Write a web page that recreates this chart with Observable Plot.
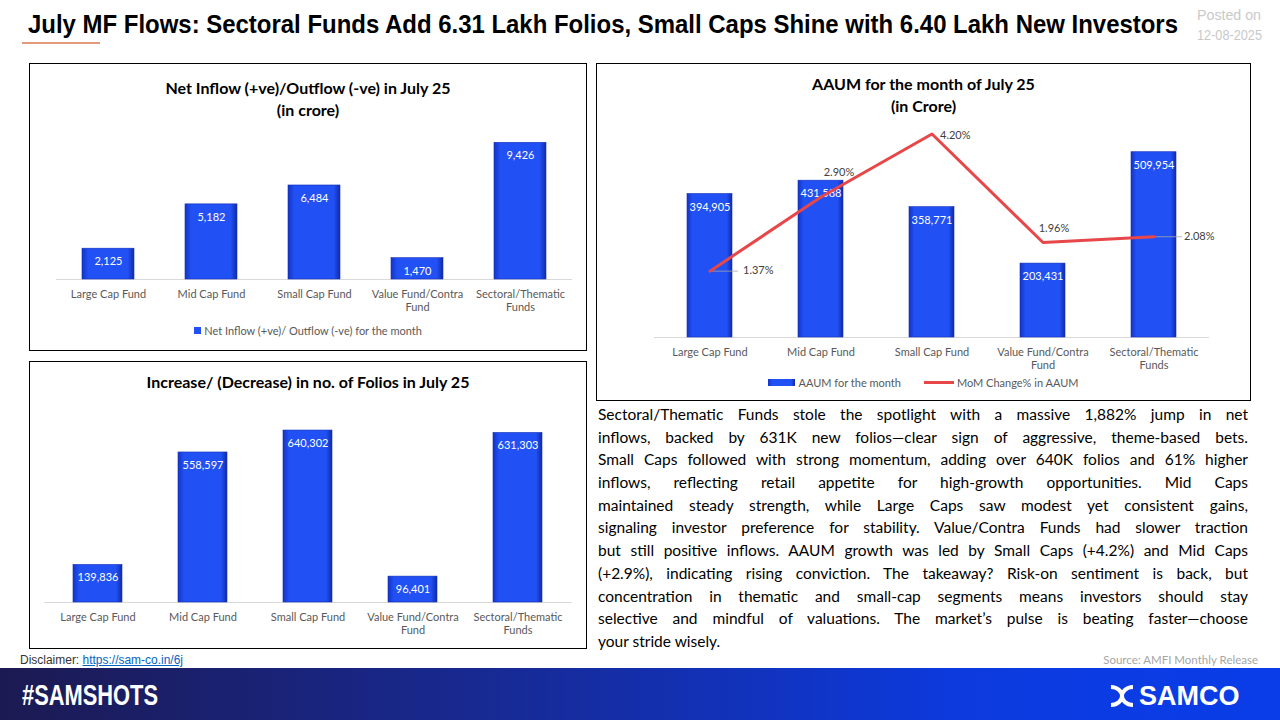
<!DOCTYPE html>
<html><head><meta charset="utf-8">
<script src="https://cdn.jsdelivr.net/npm/d3@7"></script>
<script src="https://cdn.jsdelivr.net/npm/@observablehq/plot@0.6"></script>
<style>
body{margin:0;width:1280px;height:720px;background:#fff;position:relative;overflow:hidden;font-family:Lato,"Open Sans",sans-serif;}
.abs{position:absolute}
.fit{transform-origin:0 50%;white-space:nowrap}
.panel{position:absolute;border:1px solid #000;box-sizing:border-box;background:#fff}
.ptitle{position:absolute;left:0;right:0;text-align:center;font-weight:700;font-size:16px;color:#000;line-height:22px}
.chart{position:absolute;left:0;top:0}
.legend{position:absolute;left:0;right:0;display:flex;justify-content:center;align-items:center;font-size:11px;color:#595959;height:14px}
.para div{text-align:justify;text-align-last:justify;white-space:nowrap;height:22.7px;line-height:22.7px}
.para div.last{text-align-last:left}
</style>
</head><body>
<svg width="0" height="0" style="position:absolute">
  <defs>
    <linearGradient id="bargrad" x1="0" x2="1" y1="0" y2="0">
      <stop offset="0" stop-color="#1434c4"/>
      <stop offset="0.12" stop-color="#2150f4"/>
      <stop offset="0.88" stop-color="#2150f4"/>
      <stop offset="1" stop-color="#0f2aa8"/>
    </linearGradient>
  </defs>
</svg>

<div class="abs fit" data-w="1150" style="left:28px;top:7px;font-family:'Liberation Sans',Arial,sans-serif;font-weight:700;font-size:25px;color:#000;line-height:34px">July MF Flows: Sectoral Funds Add 6.31 Lakh Folios, Small Caps Shine with 6.40 Lakh New Investors</div>
<div class="abs" style="left:22px;top:42px;width:78px;height:1.5px;background:#e39a7a"></div>
<div class="abs fit" data-w="64" style="left:1197px;top:5px;font-family:'Liberation Sans',Arial,sans-serif;font-size:14px;color:#c9c9c9;line-height:20px">Posted on</div>
<div class="abs fit" data-w="65" style="left:1197px;top:25px;font-family:'Liberation Sans',Arial,sans-serif;font-size:14px;color:#c9c9c9;line-height:20px">12-08-2025</div>

<div class="panel" id="p1" style="left:29px;top:63px;width:558px;height:288px">
  <div class="ptitle" style="top:13px">Net Inflow (+ve)/Outflow (-ve) in July 25<br>(in crore)</div>
  <div class="chart" id="c1"></div>
  <div class="legend" style="top:259px"><span style="display:inline-block;width:7px;height:7px;background:#2150f4;margin-right:3px"></span>Net Inflow (+ve)/ Outflow (-ve) for the month</div>
</div>

<div class="panel" id="p3" style="left:29px;top:361px;width:558px;height:288px">
  <div class="ptitle" style="top:9px">Increase/ (Decrease) in no. of Folios in July 25</div>
  <div class="chart" id="c3"></div>
</div>

<div class="panel" id="p2" style="left:596px;top:63px;width:655px;height:338px">
  <div class="ptitle" style="top:9px">AAUM for the month of July 25<br>(in Crore)</div>
  <div class="chart" id="c2"></div>
  <div class="chart" id="c2b"></div>
  <div class="legend" style="top:311px"><span style="display:inline-block;width:27px;height:7px;background:linear-gradient(90deg,#1434c4,#2150f4 15%,#2150f4 85%,#0f2aa8);margin-right:3px"></span>AAUM for the month<span style="display:inline-block;width:30px;height:3px;background:#e8474a;margin-left:23px;margin-right:3px"></span>MoM Change% in AAUM</div>
</div>

<div class="abs para" style="left:598px;top:403px;width:650px;font-size:15.5px;color:#000">
  <div>Sectoral/Thematic Funds stole the spotlight with a massive 1,882% jump in net</div>
  <div>inflows, backed by 631K new folios—clear sign of aggressive, theme-based bets.</div>
  <div>Small Caps followed with strong momentum, adding over 640K folios and 61% higher</div>
  <div>inflows, reflecting retail appetite for high-growth opportunities. Mid Caps</div>
  <div>maintained steady strength, while Large Caps saw modest yet consistent gains,</div>
  <div>signaling investor preference for stability. Value/Contra Funds had slower traction</div>
  <div>but still positive inflows. AAUM growth was led by Small Caps (+4.2%) and Mid Caps</div>
  <div>(+2.9%), indicating rising conviction. The takeaway? Risk-on sentiment is back, but</div>
  <div>concentration in thematic and small-cap segments means investors should stay</div>
  <div>selective and mindful of valuations. The market’s pulse is beating faster—choose</div>
  <div class="last">your stride wisely.</div>
</div>

<div class="abs fit" data-w="163" style="left:20px;top:653px;font-family:'Liberation Sans',Arial,sans-serif;font-size:12px;color:#333;line-height:14px">Disclaimer: <span style="color:#0563c1;text-decoration:underline">https://sam-co.in/6j</span></div>
<div class="abs" style="right:22px;top:653px;font-size:11.5px;color:#a6a6a6;line-height:14px">Source: AMFI Monthly Release</div>

<div class="abs" style="left:0;top:668px;width:1280px;height:52px;background:linear-gradient(90deg,#1c1a52 0%,#172a96 40%,#0c3ade 75%,#0a3de8 100%)"></div>
<div class="abs fit" data-w="136" style="left:22px;top:679px;font-family:'Liberation Sans',Arial,sans-serif;font-weight:700;font-size:29px;color:#fff;line-height:32px">#SAMSHOTS</div>
<div class="abs" style="left:1108px;top:681px;display:flex;align-items:center;color:#fff;font-family:'Liberation Sans',Arial,sans-serif;font-weight:700;font-size:27px;line-height:30px">
  <svg width="28" height="24" viewBox="0 0 28 24" style="margin-right:3px"><path d="M3 3 C10 3 14 8 14 12 C14 16 10 21 3 21" fill="none" stroke="#fff" stroke-width="4"/><path d="M25 3 C18 3 14 8 14 12 C14 16 18 21 25 21" fill="none" stroke="#fff" stroke-width="4"/></svg>SAMCO
</div>

<script>
const categories = ["Large Cap Fund","Mid Cap Fund","Small Cap Fund","Value Fund/Contra Fund","Sectoral/Thematic Funds"];
const tickLabels = ["Large Cap Fund","Mid Cap Fund","Small Cap Fund","Value Fund/Contra\nFund","Sectoral/Thematic\nFunds"];
const netInflow = [2125,5182,6484,1470,9426];
const folios = [139836,558597,640302,96401,631303];
const aaum = [394905,431588,358771,203431,509954];
const momPct = [1.37,2.90,4.20,1.96,2.08];

const fmt = d3.format(",");
const tickFmt = c => tickLabels[categories.indexOf(c)];

function barChart(values, o){
  const data = categories.map((c,i)=>({c, v: values[i]}));
  return Plot.plot({
    width:o.width, height:o.height,
    marginLeft:o.ml, marginRight:o.mr, marginTop:o.mt, marginBottom:o.mb,
    style:{fontFamily:"Lato, sans-serif", color:"#595959", background:"transparent", overflow:"visible"},
    x:{domain:categories, paddingInner:o.padding, paddingOuter:o.padding/2},
    y:{domain:[0,o.yMax], axis:null},
    marks:[
      Plot.ruleY([0],{stroke:"#d9d9d9", strokeWidth:1}),
      Plot.barY(data,{x:"c", y:"v", fill:"url(#bargrad)", stroke:"#1530b8", strokeWidth:0.6}),
      Plot.text(data,{x:"c", y:"v", text:d=>fmt(d.v), dy:13, fill:"#fff", fontSize:11}),
      Plot.axisX({tickSize:0, tickPadding:9, fontSize:11, label:null, lineHeight:1.2, tickFormat:tickFmt})
    ]
  });
}

document.getElementById("c1").append(barChart(netInflow,{width:556,height:255,ml:26,mr:14,mt:70,mb:40,yMax:10000,padding:0.5}));
document.getElementById("c3").append(barChart(folios,{width:556,height:284,ml:14,mr:14,mt:52,mb:44,yMax:700000,padding:0.53}));
document.getElementById("c2").append(barChart(aaum,{width:653,height:310,ml:57,mr:41,mt:55,mb:37,yMax:600000,padding:0.595}));

// MoM % line on its own (secondary) scale, overlaid on the AAUM chart
const lineData = categories.map((c,i)=>({c, p: momPct[i]}));
const pick = idx => lineData.filter((d,j)=>idx.includes(j));
const lab = (i, opts) => Plot.text(pick([i]),{x:"c", y:"p", text:d=>d.p.toFixed(2)+"%", fill:"#404040", fontSize:11, ...opts});
const lineChart = Plot.plot({
  width:653, height:310, marginLeft:57, marginRight:41, marginTop:55, marginBottom:37,
  style:{fontFamily:"Lato, sans-serif", background:"transparent", overflow:"visible"},
  x:{domain:categories, paddingInner:0.595, paddingOuter:0.2975, axis:null},
  y:{domain:[0,4.5], axis:null},
  marks:[
    // leader lines from points to their labels
    Plot.tickY(pick([0,4]),{x:"c", y:"p", stroke:"#a6a6a6", strokeWidth:0.8, insetLeft:22.5, insetRight:-6}),
    Plot.line(lineData,{x:"c", y:"p", stroke:"#e8474a", strokeWidth:3}),
    lab(0,{textAnchor:"start", dx:33, dy:-1}),
    lab(1,{textAnchor:"middle", dx:18, dy:-25}),
    lab(2,{textAnchor:"start", dx:8, dy:1}),
    lab(3,{textAnchor:"middle", dx:11, dy:-14}),
    lab(4,{textAnchor:"start", dx:30, dy:0})
  ]
});
document.getElementById("c2b").append(lineChart);

// squeeze condensed-looking headings to the reference widths
document.querySelectorAll(".fit").forEach(el => {
  const w = el.getBoundingClientRect().width;
  const target = +el.dataset.w;
  if (w > 0) el.style.transform = `scaleX(${target / w})`;
});
</script>
</body></html>
